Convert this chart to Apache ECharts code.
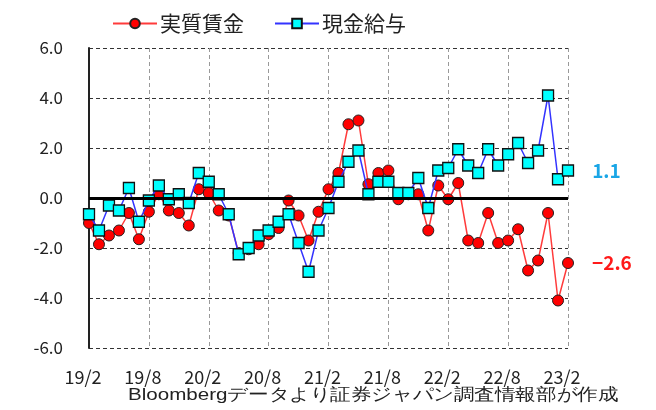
<!DOCTYPE html>
<html><head><meta charset="utf-8">
<script src="https://cdn.jsdelivr.net/npm/echarts@6/dist/echarts.min.js"></script>
<style>html,body{margin:0;padding:0;background:#fff}#c{width:656px;height:410px}</style>
</head><body><div id="c"></div>
<script>
var categories = ["19/2","19/3","19/4","19/5","19/6","19/7","19/8","19/9","19/10","19/11","19/12","20/1",
"20/2","20/3","20/4","20/5","20/6","20/7","20/8","20/9","20/10","20/11","20/12","21/1",
"21/2","21/3","21/4","21/5","21/6","21/7","21/8","21/9","21/10","21/11","21/12","22/1",
"22/2","22/3","22/4","22/5","22/6","22/7","22/8","22/9","22/10","22/11","22/12","23/1","23/2"];
var realWage = [-1.0,-1.85,-1.5,-1.3,-0.6,-1.65,-0.55,0.15,-0.5,-0.6,-1.1,0.35,
0.2,-0.5,-0.7,-2.2,-2.05,-1.85,-1.45,-1.2,-0.1,-0.7,-1.7,-0.55,
0.35,1.0,2.95,3.1,0.55,1.0,1.1,-0.05,0.15,0.15,-1.3,0.5,
-0.05,0.6,-1.7,-1.8,-0.6,-1.8,-1.7,-1.25,-2.9,-2.5,-0.6,-4.1,-2.6];
var cashPay = [-0.65,-1.3,-0.3,-0.5,0.4,-0.95,-0.1,0.5,-0.05,0.15,-0.2,1.0,
0.65,0.15,-0.65,-2.25,-2.0,-1.5,-1.3,-0.95,-0.65,-1.8,-2.95,-1.3,
-0.4,0.65,1.45,1.9,0.15,0.65,0.65,0.2,0.2,0.8,-0.4,1.1,
1.2,1.95,1.3,1.0,1.95,1.3,1.75,2.2,1.4,1.9,4.1,0.75,1.1];
var seriesNames = ["実質賃金","現金給与"];
var endLabels = ["−2.6","1.1"];
var yTicks = {min:-6, max:6, step:2};
var sourceText = "Bloombergデータより証券ジャパン調査情報部が作成";

var FONT = '"Noto Sans CJK JP", sans-serif';
function withEndLabel(arr, text, color){
  return arr.map(function(v,i){
    if(i===arr.length-1){
      return {value:v, label:{show:true, position:'right', distance:18, formatter:text,
        color:color, fontSize:19, fontWeight:'bold', fontFamily:FONT}};
    }
    return v;
  });
}
var chart = echarts.init(document.getElementById('c'), null, {renderer:'canvas'});
chart.setOption({
  animation:false,
  backgroundColor:'#fff',
  grid:{left:89, right:88, top:48, bottom:62},
  legend:{
    top:8, left:107, itemGap:30, itemWidth:44, itemHeight:12,
    textStyle:{fontSize:21, color:'#222', fontFamily:FONT, padding:[0,0,0,-2]},
    data:seriesNames
  },
  xAxis:{
    type:'category', data:categories, boundaryGap:false,
    axisLine:{show:false, onZero:false},
    axisTick:{show:false},
    axisLabel:{interval:5, margin:20, fontSize:18, color:'#222', fontFamily:FONT, showMaxLabel:true,
      padding:[0,12,0,0]},
    splitLine:{show:true, interval:5, lineStyle:{color:'#999', type:[4,3], width:1}}
  },
  yAxis:{
    type:'value', min:yTicks.min, max:yTicks.max, interval:yTicks.step,
    axisLine:{show:true, lineStyle:{color:'#222', width:2}},
    axisTick:{show:false},
    axisLabel:{margin:26, fontSize:17, color:'#222', fontFamily:FONT,
      formatter:function(v){return v.toFixed(1);}},
    splitLine:{show:true, lineStyle:{color:'#333', type:[4,3], width:1}}
  },
  series:[
    {
      name:seriesNames[0], type:'line', data:withEndLabel(realWage, endLabels[0], '#ff1a1a'),
      symbol:'circle', symbolSize:11, showSymbol:true, showAllSymbol:true,
      lineStyle:{color:'#ff3b3b', width:1.5},
      itemStyle:{color:'#ff0000', borderColor:'#222', borderWidth:1},
      markLine:{silent:true, symbol:'none', label:{show:false},
        lineStyle:{color:'#000', width:3, type:'solid'}, data:[{yAxis:0}]},
      z:2
    },
    {
      name:seriesNames[1], type:'line', data:withEndLabel(cashPay, endLabels[1], '#1aa6e6'),
      symbol:'rect', symbolSize:11, showSymbol:true, showAllSymbol:true,
      lineStyle:{color:'#3333ff', width:1.5},
      itemStyle:{color:'#00ffff', borderColor:'#111', borderWidth:1.3},
      z:3
    }
  ],
  graphic:[{
    type:'text', x:128, y:387, scaleX:1.21,
    style:{text:sourceText, fontSize:17, fill:'#222', font:'17px '+FONT}
  }]
});
</script></body></html>
